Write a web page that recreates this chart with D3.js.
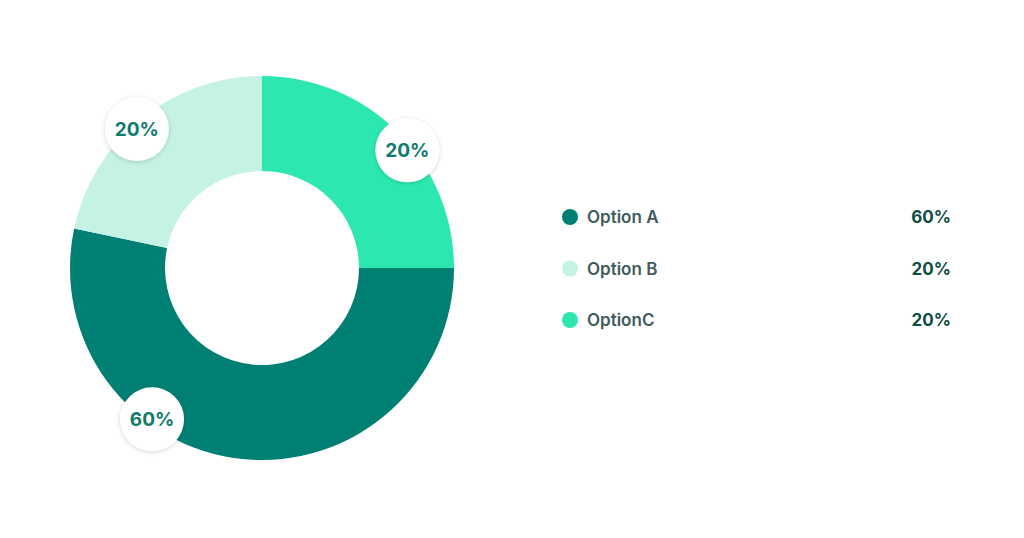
<!DOCTYPE html>
<html><head><meta charset="utf-8">
<script src="https://cdn.jsdelivr.net/npm/d3@7"></script>
<style>body{margin:0;background:#fff}svg{display:block}text{font-family:Inter,"Noto Sans",sans-serif}</style>
</head><body><svg id="c" width="1024" height="538"></svg>
<script>
const categories = ["Option A", "Option B", "OptionC"];
const shownPercent = ["60%", "20%", "20%"];
// arc shares as drawn in the picture
const arcShare = [53.3, 21.7, 25];
const colors = ["#007f73", "#c4f2e4", "#2ce8b0"];
const labelAngleDeg = [216, 318, 51];

const svg = d3.select("#c");
const defs = svg.append("defs");
const f = defs.append("filter").attr("id","sh").attr("x","-50%").attr("y","-50%").attr("width","200%").attr("height","200%");
f.append("feDropShadow").attr("dx",0).attr("dy",1).attr("stdDeviation",2).attr("flood-color","#000").attr("flood-opacity",0.18);

const cx = 262, cy = 268, R = 192, r = 97;
const g = svg.append("g").attr("transform",`translate(${cx},${cy})`);
// order: C first from 12 o'clock, then A, then B
const order = [2,0,1];
const pie = d3.pie().sort(null).value(i => arcShare[i]);
const arcs = pie(order);
const arc = d3.arc().innerRadius(r).outerRadius(R);
g.selectAll("path").data(arcs).join("path").attr("d",arc).attr("fill",d=>colors[d.data]);

const lg = g.selectAll("g.lab").data(categories.map((c,i)=>i)).join("g")
  .attr("transform",i=>{const a=labelAngleDeg[i]*Math.PI/180;return `translate(${187*Math.sin(a)},${-187*Math.cos(a)})`;});
lg.append("circle").attr("r",32).attr("fill","#fff").attr("filter","url(#sh)");
lg.append("text").attr("text-anchor","middle").attr("dy","0.36em").attr("font-size",19).attr("font-weight",700)
  .attr("fill","#0f7a6e").text(i=>shownPercent[i]);

const y = d3.scalePoint().domain(categories).range([217,320]);
const leg = svg.selectAll("g.leg").data(categories).join("g").attr("transform",d=>`translate(0,${y(d)})`);
leg.append("circle").attr("cx",570).attr("r",8).attr("fill",(d,i)=>colors[i]);
leg.append("text").attr("x",587).attr("dy","0.36em").attr("font-size",17).attr("font-weight",600).attr("fill","#3f5b5b").text(d=>d);
leg.append("text").attr("x",951).attr("text-anchor","end").attr("dy","0.36em").attr("font-size",17).attr("font-weight",700).attr("fill","#0e4d43").text((d,i)=>shownPercent[i]);
</script></body></html>
